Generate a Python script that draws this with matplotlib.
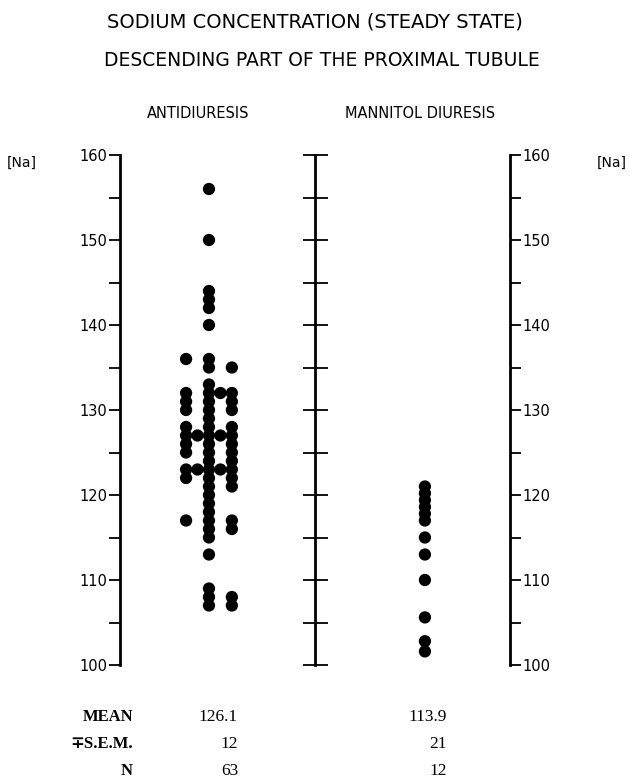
import matplotlib
matplotlib.use("Agg")
import matplotlib.pyplot as plt
from matplotlib.ticker import MultipleLocator, NullFormatter, FuncFormatter

# ---- data ----
groups = ["ANTIDIURESIS", "MANNITOL DIURESIS"]
# antidiuresis values split into the sub-columns of the strip
anti_center = [156, 150, 144, 143, 142, 140, 136, 135, 133, 132, 131, 130, 129, 128,
               127, 126, 125, 124, 123, 122, 121, 120, 119, 118, 117, 116, 115, 113,
               109, 108, 107]
anti_left = [136, 132, 131, 130, 128, 127, 126, 125, 123, 122, 117]
anti_left_mid = [127, 123]
anti_right_mid = [132, 127, 123]
anti_right = [135, 132, 131, 130, 128, 127, 126, 125, 124, 123, 122, 121, 117, 116,
              108, 107]
mannitol = [121, 120.2, 119.4, 118.6, 117.8, 117, 115, 113, 110, 105.6, 102.8, 101.6]

stat_labels = ["MEAN", "\u2213S.E.M.", "N"]
anti_stats = ["126.1", "12", "63"]
mann_stats = ["113.9", "21", "12"]

# ---- figure ----
W, H = 630, 783
fig = plt.figure(figsize=(W / 100, H / 100), dpi=100)
ax = fig.add_axes([120 / W, 1 - 665 / H, 390 / W, 510 / H])

ax.set_ylim(100, 160)
ax.set_xlim(0.588, 2.394)

sans = ["DejaVu Sans"]
serif = ["Liberation Serif", "DejaVu Serif"]

step = 0.053  # half column spacing in data units
dot = dict(s=78, color="black", edgecolors="none", zorder=3)
ax.scatter([1] * len(anti_center), anti_center, **dot)
ax.scatter([1 - 2 * step] * len(anti_left), anti_left, **dot)
ax.scatter([1 - step] * len(anti_left_mid), anti_left_mid, **dot)
ax.scatter([1 + step] * len(anti_right_mid), anti_right_mid, **dot)
ax.scatter([1 + 2 * step] * len(anti_right), anti_right, **dot)
ax.scatter([2] * len(mannitol), mannitol, **dot)

# axes styling
for s in ["top", "bottom"]:
    ax.spines[s].set_visible(False)
for s in ["left", "right"]:
    ax.spines[s].set_linewidth(2.0)
ax.set_xticks([])
ax.yaxis.set_major_locator(MultipleLocator(10))
ax.yaxis.set_minor_locator(MultipleLocator(5))
ax.yaxis.set_major_formatter(FuncFormatter(lambda v, p: f"{int(v)}"))
ax.tick_params(axis="y", which="both", left=True, right=True, labelleft=True,
               labelright=True, direction="out", length=8, width=1.3, pad=1,
               labelsize=10.5)

mid = ax.secondary_yaxis(0.5)
for sp in mid.spines.values():
    sp.set_linewidth(2.0)
mid.yaxis.set_major_locator(MultipleLocator(5))
mid.yaxis.set_major_formatter(NullFormatter())
mid.tick_params(axis="y", direction="inout", length=18, width=1.3,
                labelleft=False, labelright=False)

# titles
def ftxt(x, y, s, **kw):
    fig.text(x / W, 1 - y / H, s, **kw)

ftxt(315, 22, "SODIUM CONCENTRATION (STEADY STATE)", ha="center", va="center",
     fontsize=14, family=sans)
ftxt(322, 61, "DESCENDING PART OF THE PROXIMAL TUBULE", ha="center", va="center",
     fontsize=13.5, family=sans)
ftxt(198, 113, groups[0], ha="center", va="center", fontsize=10.5, family=sans)
ftxt(420, 113, groups[1], ha="center", va="center", fontsize=10.5, family=sans)
ftxt(22, 163, "[Na]", ha="center", va="center", fontsize=10, family=sans)
ftxt(612, 163, "[Na]", ha="center", va="center", fontsize=10, family=sans)

# statistics table
rows_y = [717, 744, 771]
for y, lab, a, m in zip(rows_y, stat_labels, anti_stats, mann_stats):
    ftxt(133, y, lab, ha="right", va="center", fontsize=12, family=serif,
         fontweight="bold")
    ftxt(238, y, a, ha="right", va="center", fontsize=12.5, family=serif)
    ftxt(447, y, m, ha="right", va="center", fontsize=12.5, family=serif)

fig.savefig("out.png", dpi=100)
